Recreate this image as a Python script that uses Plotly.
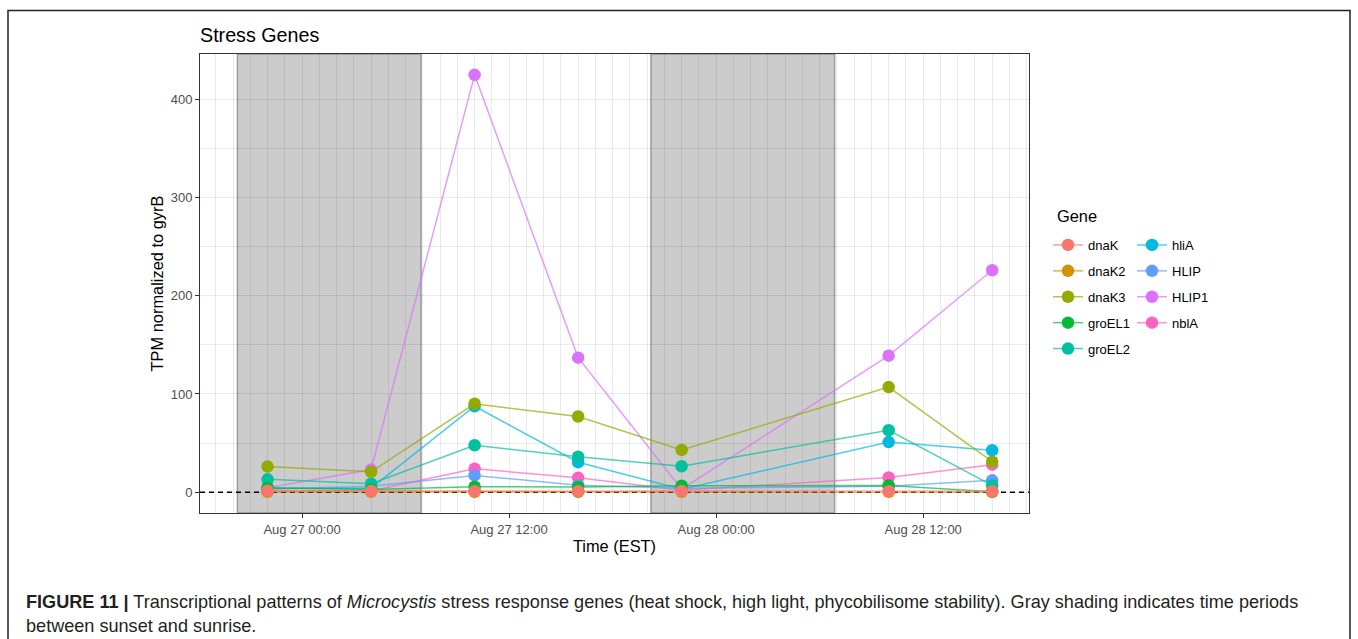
import plotly.graph_objects as go

# ---- data ----
times = ["2014-08-26 22:00", "2014-08-27 04:00", "2014-08-27 10:00", "2014-08-27 16:00",
         "2014-08-27 22:00", "2014-08-28 10:00", "2014-08-28 16:00"]
genes = ["dnaK", "dnaK2", "dnaK3", "groEL1", "groEL2", "hliA", "HLIP", "HLIP1", "nblA"]
colors = ["#F8766D", "#D39200", "#93AA00", "#00BA38", "#00C19F", "#00B9E3", "#619CFF", "#DB72FB", "#FF61C3"]

dnaK = [1.5, 1.2, 1.0, 1.0, 1.2, 1.0, 0.8]
dnaK2 = [0.3, 0.3, 0.2, 0.2, 0.3, 0.3, 0.2]
dnaK3 = [26, 20.7, 90, 77, 43, 107, 31]
groEL1 = [4.5, 2.7, 5.5, 5.3, 6.5, 6.8, 0.3]
groEL2 = [13, 8.5, 47.8, 36, 26.4, 63, 6.8]
hliA = [4, 4, 87.5, 30.5, 3, 51, 42.7]
HLIP = [3, 6, 17, 7, 4, 6, 12]
HLIP1 = [4.5, 23, 425, 137, 3, 139, 226]
nblA = [1, 1.5, 23.8, 14.6, 2, 15, 28]

series = [dnaK, dnaK2, dnaK3, groEL1, groEL2, hliA, HLIP, HLIP1, nblA]

night_start = ["2014-08-26 20:15", "2014-08-27 20:13"]
night_end = ["2014-08-27 06:54", "2014-08-28 06:52"]

x_range = ["2014-08-26 18:05", "2014-08-28 18:08"]
y_range = [-21.25, 446.25]

# ---- figure ----
def hex_rgba(h, a):
    h = h.lstrip("#")
    return "rgba(%d,%d,%d,%.2f)" % (int(h[0:2], 16), int(h[2:4], 16), int(h[4:6], 16), a)

fig = go.Figure()
order = list(range(len(genes)))[::-1]
for i in order:
    fig.add_trace(go.Scatter(
        x=times, y=series[i], name=genes[i], mode="lines+markers",
        line=dict(color=hex_rgba(colors[i], 0.7), width=1.5),
        marker=dict(color=colors[i], size=12.5),
        legendgroup=genes[i], legendrank=i + 1,
        legend="legend" if i < 5 else "legend2",
    ))

shapes = []
for s, e in zip(night_start, night_end):
    shapes.append(dict(type="rect", xref="x", yref="y domain", x0=s, x1=e, y0=0, y1=1,
                       fillcolor="rgba(0,0,0,0.2)",
                       line=dict(color="rgba(70,70,70,0.45)", width=1.5), layer="below"))
shapes.append(dict(type="line", xref="x domain", yref="y", x0=0, x1=1, y0=0, y1=0,
                   line=dict(color="black", width=1.5, dash="5px,4px"), layer="below"))
# outer figure frame
shapes.append(dict(type="rect", xref="paper", yref="paper",
                   x0=(8 - 200) / 829, x1=(1350 - 200) / 829,
                   y0=(513 - 10.5) / 459, y1=(513 - 660) / 459,
                   line=dict(color="#222222", width=1.5), fillcolor="rgba(0,0,0,0)", layer="above"))

FONT = "Liberation Sans, Arial, Helvetica, sans-serif"
GRID = "rgba(0,0,0,0.08)"
axis_common = dict(
    showgrid=True, gridcolor=GRID, gridwidth=1.1,
    ticks="outside", ticklen=4, tickcolor="#333333", tickwidth=1,
    showline=True, linecolor="#333333", linewidth=1, mirror=True,
    zeroline=False,
    tickfont=dict(size=13, color="#4D4D4D", family=FONT),
)

legend_y = (513 - 230) / 459

fig.update_layout(
    width=1358, height=639,
    margin=dict(l=200, r=329, t=54, b=126),
    paper_bgcolor="white", plot_bgcolor="white",
    font=dict(family=FONT, color="black"),
    title=dict(text="Stress Genes", font=dict(size=19.7, color="black"),
               xref="container", x=200 / 1358, xanchor="left",
               yref="container", y=1 - 35.5 / 639, yanchor="middle"),
    xaxis=dict(type="date", range=x_range, tickmode="linear",
               tick0="2014-08-27 00:00", dtick=43200000, tickformat="%b %d %H:%M",
               minor=dict(dtick=3600000, tick0="2014-08-27 00:00", showgrid=True,
                          gridcolor=GRID, gridwidth=0.6, ticks=""),
               title=dict(text="Time (EST)", font=dict(size=16.4, color="black"), standoff=4),
               **axis_common),
    yaxis=dict(range=y_range, tickmode="linear", tick0=0, dtick=100,
               minor=dict(dtick=50, showgrid=True, gridcolor=GRID, gridwidth=0.6, ticks=""),
               title=dict(text="TPM normalized to gyrB", font=dict(size=16.4, color="black"), standoff=2),
               **axis_common),
    shapes=shapes,
    legend=dict(font=dict(size=13, color="black"),
                x=(1048 - 200) / 829, xanchor="left", y=legend_y, yanchor="top",
                traceorder="grouped", tracegroupgap=6, bgcolor="rgba(0,0,0,0)"),
    legend2=dict(font=dict(size=13, color="black"),
                 x=(1132 - 200) / 829, xanchor="left", y=legend_y, yanchor="top",
                 traceorder="grouped", tracegroupgap=6, bgcolor="rgba(0,0,0,0)"),
    annotations=[
        dict(xref="paper", yref="paper", x=(1055 - 200) / 829, y=(513 - 215.7) / 459,
             xanchor="left", yanchor="middle", showarrow=False, text="Gene",
             font=dict(size=16.4, color="black", family=FONT)),
        dict(xref="paper", yref="paper", x=(24 - 200) / 829, y=(513 - 613.5) / 459,
             xanchor="left", yanchor="middle", align="left", showarrow=False,
             text="<b>FIGURE 11 |</b> Transcriptional patterns of <i>Microcystis</i> stress response genes "
                  "(heat shock, high light, phycobilisome stability). Gray shading indicates time periods<br>"
                  "between sunset and sunrise.",
             font=dict(size=18.1, color="#231F20", family=FONT)),
    ],
)

fig.write_html("out.html", config={"displayModeBar": False},
               post_script="document.body.style.margin='0';")
